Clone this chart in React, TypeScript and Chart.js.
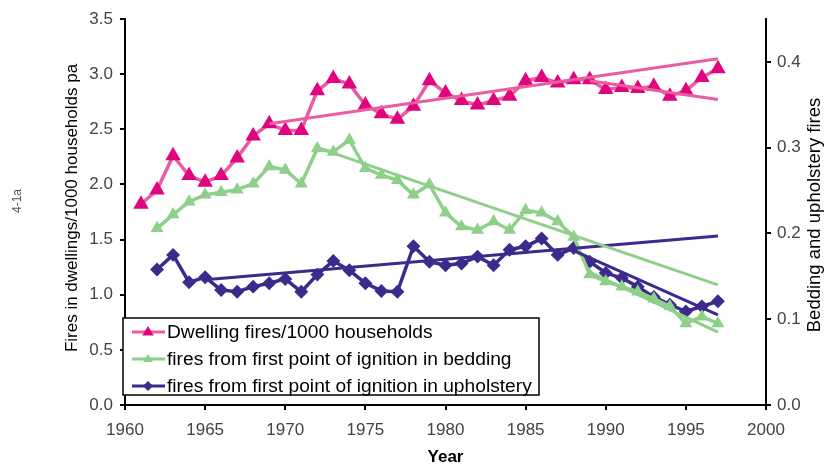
import React, { useEffect, useRef } from "react";
import { Chart, registerables } from "chart.js";

Chart.register(...registerables);

const dwellingYears = [1961,1962,1963,1964,1965,1966,1967,1968,1969,1970,1971,1972,1973,1974,1975,1976,1977,1978,1979,1980,1981,1982,1983,1984,1985,1986,1987,1988,1989,1990,1991,1992,1993,1994,1995,1996,1997];
const dwellingFires = [1.82,1.95,2.26,2.08,2.02,2.08,2.24,2.44,2.55,2.49,2.49,2.85,2.96,2.91,2.72,2.64,2.59,2.71,2.94,2.83,2.76,2.72,2.76,2.80,2.94,2.97,2.92,2.95,2.95,2.86,2.88,2.87,2.89,2.80,2.85,2.97,3.05];

const ignitionYears = [1962,1963,1964,1965,1966,1967,1968,1969,1970,1971,1972,1973,1974,1975,1976,1977,1978,1979,1980,1981,1982,1983,1984,1985,1986,1987,1988,1989,1990,1991,1992,1993,1994,1995,1996,1997];
const beddingFires = [0.206,0.222,0.237,0.245,0.248,0.251,0.258,0.278,0.274,0.258,0.299,0.295,0.309,0.276,0.268,0.262,0.245,0.257,0.224,0.208,0.204,0.214,0.204,0.227,0.224,0.214,0.196,0.152,0.144,0.138,0.132,0.124,0.115,0.095,0.103,0.095];
const upholsteryFires = [0.158,0.175,0.143,0.149,0.134,0.132,0.138,0.142,0.147,0.132,0.152,0.168,0.157,0.142,0.133,0.132,0.185,0.167,0.163,0.165,0.173,0.163,0.181,0.185,0.194,0.175,0.183,0.167,0.154,0.148,0.138,0.126,0.117,0.109,0.115,0.121];

// trend lines: [startYear, endYear] and [startValue, endValue]
const dwellingTrendA = { years: [1969, 1997], values: [2.55, 3.14] };
const dwellingTrendB = { years: [1989, 1997], values: [2.94, 2.77] };
const beddingTrendA = { years: [1972, 1997], values: [0.30, 0.14] };
const beddingTrendB = { years: [1989, 1997], values: [0.155, 0.085] };
const upholsteryTrendA = { years: [1965, 1997], values: [0.146, 0.197] };
const upholsteryTrendB = { years: [1988, 1997], values: [0.180, 0.105] };

const seriesLabels = [
  "Dwelling fires/1000 households",
  "fires from first point of ignition in bedding",
  "fires from first point of ignition in upholstery",
];
const leftTicksMax = 3.5;
const rightTicksMax = 0.45;

const PINK_LINE = "#EA5CA0";
const PINK_MARK = "#E0047E";
const GREEN = "#8ED08A";
const PURPLE = "#3C2A8C";
const FONT = '"Liberation Sans", Arial, sans-serif';

const pts = (xs: number[], ys: number[]) => xs.map((x, i) => ({ x, y: ys[i] }));

function drawMarker(ctx: CanvasRenderingContext2D, style: string, x: number, y: number, r: number, color: string) {
  ctx.save();
  ctx.fillStyle = color;
  ctx.beginPath();
  if (style === "triangle") {
    ctx.moveTo(x, y - r);
    ctx.lineTo(x + r * 0.95, y + r * 0.6);
    ctx.lineTo(x - r * 0.95, y + r * 0.6);
  } else {
    ctx.moveTo(x, y - r);
    ctx.lineTo(x + r, y);
    ctx.lineTo(x, y + r);
    ctx.lineTo(x - r, y);
  }
  ctx.closePath();
  ctx.fill();
  ctx.restore();
}

const textPlugin = {
  id: "extraText",
  afterDraw(chart: any) {
    const ctx: CanvasRenderingContext2D = chart.ctx;
    const area = chart.chartArea;
    ctx.save();
    ctx.fillStyle = "#000";
    ctx.textAlign = "center";
    ctx.textBaseline = "middle";
    ctx.font = `17px ${FONT}`;
    ctx.save();
    ctx.translate(72, 208);
    ctx.rotate(-Math.PI / 2);
    ctx.fillText("Fires in dwellings/1000 households pa", 0, 0);
    ctx.restore();
    ctx.save();
    ctx.font = `18.5px ${FONT}`;
    ctx.translate(815, 215);
    ctx.rotate(-Math.PI / 2);
    ctx.fillText("Bedding and upholstery fires", 0, 0);
    ctx.restore();
    ctx.save();
    ctx.fillStyle = "#555";
    ctx.font = `12px ${FONT}`;
    ctx.translate(18, 201);
    ctx.rotate(-Math.PI / 2);
    ctx.fillText("4-1a", 0, 0);
    ctx.restore();
    ctx.font = `bold 17px ${FONT}`;
    ctx.fillText("Year", (area.left + area.right) / 2, 457);

    // legend
    const bx = area.left - 2;
    const by = 318;
    const bw = 416;
    const bh = 77;
    ctx.fillStyle = "#fff";
    ctx.fillRect(bx, by, bw, bh);
    ctx.strokeStyle = "#000";
    ctx.lineWidth = 1.5;
    ctx.strokeRect(bx, by, bw, bh);
    const rows = [
      { color: PINK_LINE, mark: PINK_MARK, style: "triangle", r: 6 },
      { color: GREEN, mark: GREEN, style: "triangle", r: 5 },
      { color: PURPLE, mark: PURPLE, style: "rectRot", r: 5 },
    ];
    ctx.font = `19.2px ${FONT}`;
    ctx.textAlign = "left";
    rows.forEach((row, i) => {
      const y = by + 14 + i * 27;
      ctx.strokeStyle = row.color;
      ctx.lineWidth = 3;
      ctx.beginPath();
      ctx.moveTo(bx + 9, y);
      ctx.lineTo(bx + 42, y);
      ctx.stroke();
      drawMarker(ctx, row.style, bx + 25, y, row.r, row.mark);
      ctx.fillStyle = "#000";
      ctx.fillText(seriesLabels[i], bx + 44, y + 1);
    });
    ctx.restore();
  },
};

function trendSet(t: { years: number[]; values: number[] }, color: string, axis: string) {
  return {
    label: "",
    data: pts(t.years, t.values),
    borderColor: color,
    borderWidth: 3,
    pointRadius: 0,
    yAxisID: axis,
    tension: 0,
  };
}

export default function App() {
  const canvasRef = useRef<HTMLCanvasElement>(null);
  useEffect(() => {
    if (!canvasRef.current) return;
    const chart = new Chart(canvasRef.current, {
      type: "line",
      data: {
        datasets: [
          trendSet(dwellingTrendA, PINK_LINE, "y"),
          trendSet(dwellingTrendB, PINK_LINE, "y"),
          trendSet(beddingTrendA, GREEN, "y1"),
          trendSet(beddingTrendB, GREEN, "y1"),
          trendSet(upholsteryTrendA, PURPLE, "y1"),
          trendSet(upholsteryTrendB, PURPLE, "y1"),
          {
            label: seriesLabels[1],
            data: pts(ignitionYears, beddingFires),
            borderColor: GREEN,
            backgroundColor: GREEN,
            pointBackgroundColor: GREEN,
            pointBorderColor: GREEN,
            pointStyle: "triangle",
            pointRadius: 4,
            borderWidth: 3.5,
            yAxisID: "y1",
            tension: 0,
          },
          {
            label: seriesLabels[2],
            data: pts(ignitionYears, upholsteryFires),
            borderColor: PURPLE,
            backgroundColor: PURPLE,
            pointBackgroundColor: PURPLE,
            pointBorderColor: PURPLE,
            pointStyle: "rectRot",
            pointRadius: 4.5,
            borderWidth: 3.5,
            yAxisID: "y1",
            tension: 0,
          },
          {
            label: seriesLabels[0],
            data: pts(dwellingYears, dwellingFires),
            borderColor: PINK_LINE,
            backgroundColor: PINK_MARK,
            pointBackgroundColor: PINK_MARK,
            pointBorderColor: PINK_MARK,
            pointStyle: "triangle",
            pointRadius: 5.5,
            borderWidth: 3.5,
            yAxisID: "y",
            tension: 0,
          },
        ],
      },
      options: {
        animation: false,
        responsive: false,
        devicePixelRatio: 1,
        layout: { padding: { top: 19, left: 0, right: 0, bottom: 0 } },
        plugins: { legend: { display: false }, tooltip: { enabled: false } },
        elements: { line: { borderCapStyle: "butt", borderJoinStyle: "round" } },
        scales: {
          x: {
            type: "linear",
            position: "bottom",
            min: 1960,
            max: 2000,
            ticks: {
              stepSize: 5,
              autoSkip: false,
              maxRotation: 0,
              callback: (v: any) => String(v),
              font: { family: FONT, size: 17 },
              color: "#444",
              padding: 10,
            },
            grid: { display: true, drawOnChartArea: false, drawTicks: true, tickLength: 5, color: "#000", lineWidth: 2 },
            border: { display: true, color: "#000", width: 2 },
            afterFit: (s: any) => { s.height = 60; },
          },
          y: {
            type: "linear",
            position: "left",
            min: 0,
            max: leftTicksMax,
            ticks: {
              stepSize: 0.5,
              callback: (v: any) => Number(v).toFixed(1),
              font: { family: FONT, size: 17 },
              color: "#444",
              padding: 7,
            },
            grid: { display: true, drawOnChartArea: false, drawTicks: true, tickLength: 5, color: "#000", lineWidth: 2 },
            border: { display: true, color: "#000", width: 2 },
            afterFit: (s: any) => { s.width = 125; },
          },
          y1: {
            type: "linear",
            position: "right",
            min: 0,
            max: rightTicksMax,
            afterBuildTicks: (s: any) => { s.ticks = s.ticks.filter((t: any) => t.value < 0.44); },
            ticks: {
              stepSize: 0.1,
              callback: (v: any) => Number(v).toFixed(1),
              font: { family: FONT, size: 17 },
              color: "#444",
              padding: 6,
            },
            grid: { display: true, drawOnChartArea: false, drawTicks: true, tickLength: 5, color: "#000", lineWidth: 2 },
            border: { display: true, color: "#000", width: 2 },
            afterFit: (s: any) => { s.width = 58; },
          },
        },
      } as any,
      plugins: [textPlugin],
    });
    return () => chart.destroy();
  }, []);
  return (
    <div style={{ position: "absolute", left: 0, top: 0, width: 824, height: 465, background: "#fff" }}>
      <canvas ref={canvasRef} width={824} height={465} style={{ display: "block" }} />
    </div>
  );
}
